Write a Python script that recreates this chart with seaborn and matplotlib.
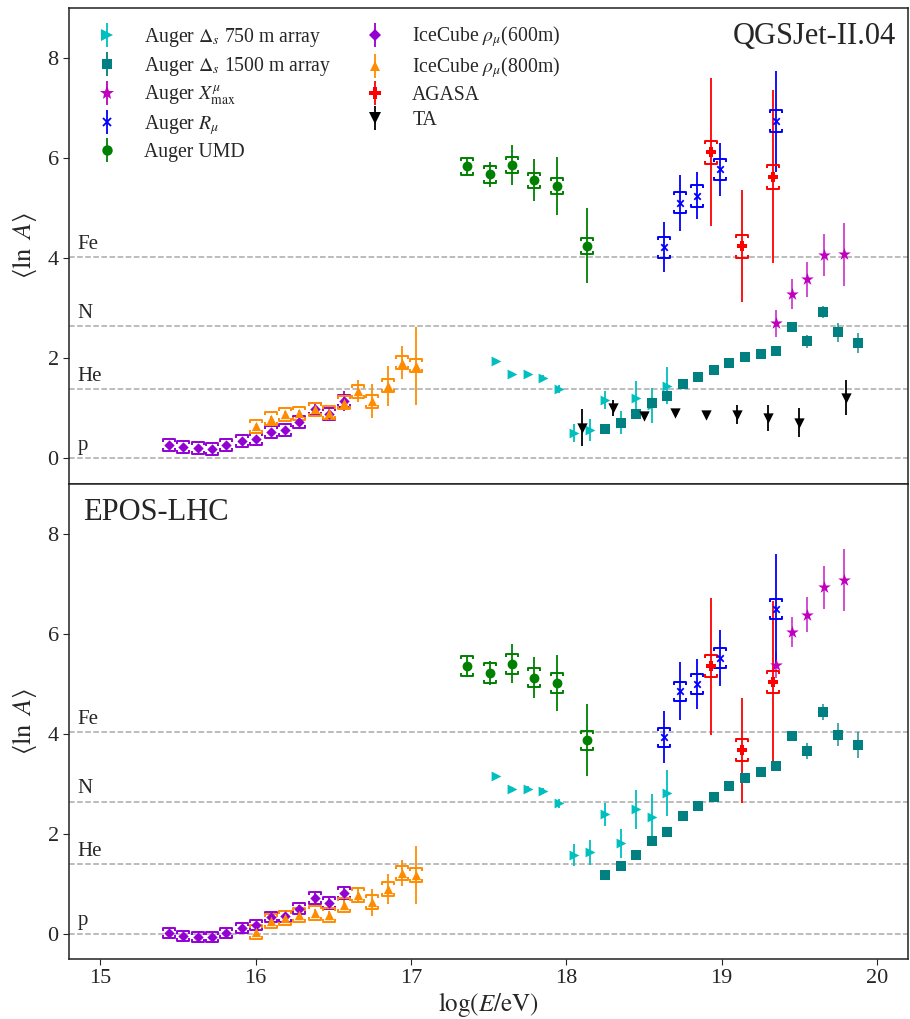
import matplotlib
matplotlib.use('Agg')
import matplotlib.pyplot as plt
from matplotlib.path import Path
from matplotlib.lines import Line2D
import numpy as np
import seaborn as sns

# ---- data ----
x_ic600 = [15.44, 15.53, 15.63, 15.72, 15.81, 15.91, 16.0, 16.1, 16.19, 16.28, 16.38, 16.47, 16.57]
x_ic800 = [16.0, 16.1, 16.19, 16.28, 16.38, 16.47, 16.57, 16.66, 16.75, 16.85, 16.94, 17.03]
x_umd = [17.36, 17.51, 17.65, 17.79, 17.94, 18.13]
x_750 = [17.55, 17.65, 17.75, 17.85, 17.95, 18.05, 18.15, 18.25, 18.35, 18.45, 18.55, 18.65]
x_1500 = [18.25, 18.35, 18.45, 18.55, 18.65, 18.75, 18.85, 18.95, 19.05, 19.15, 19.25, 19.35,
          19.45, 19.55, 19.65, 19.75, 19.88]
x_ta = [18.1, 18.3, 18.5, 18.7, 18.9, 19.1, 19.3, 19.5, 19.8]
x_rmu = [18.63, 18.73, 18.84, 18.99, 19.35]
x_agasa = [18.93, 19.13, 19.33]
x_xmax = [19.35, 19.45, 19.55, 19.66, 19.79]

# QGSJet-II.04
qgs_ic600 = [0.265, 0.225, 0.2, 0.185, 0.26, 0.34, 0.38, 0.52, 0.56, 0.72, 0.98, 0.89, 1.14]
qgs_ic600_err = [0.05, 0.05, 0.05, 0.05, 0.05, 0.06, 0.06, 0.07, 0.07, 0.08, 0.1, 0.1, 0.2]
qgs_ic600_sys = [0.12, 0.12, 0.12, 0.12, 0.12, 0.12, 0.12, 0.12, 0.12, 0.12, 0.12, 0.12, 0.12]
qgs_ic800 = [0.64, 0.79, 0.88, 0.9, 0.98, 0.91, 1.11, 1.34, 1.14, 1.45, 1.91, 1.85]
qgs_ic800_err = [0.05, 0.06, 0.06, 0.07, 0.08, 0.08, 0.1, 0.22, 0.34, 0.4, 0.33, 0.78]
qgs_ic800_sys = [0.13, 0.13, 0.13, 0.13, 0.13, 0.13, 0.13, 0.13, 0.13, 0.13, 0.13, 0.13]
qgs_umd = [5.84, 5.68, 5.86, 5.56, 5.44, 4.25]
qgs_umd_err = [0.18, 0.25, 0.4, 0.42, 0.58, 0.75]
qgs_umd_sys = [0.17, 0.17, 0.16, 0.15, 0.16, 0.16]
qgs_750 = [1.95, 1.69, 1.68, 1.61, 1.39, 0.5, 0.56, 1.16, 0.71, 1.21, 1.06, 1.45]
qgs_750_err = [0.04, 0.04, 0.04, 0.05, 0.08, 0.18, 0.22, 0.18, 0.23, 0.33, 0.35, 0.37]
qgs_1500 = [0.58, 0.71, 0.89, 1.1, 1.24, 1.49, 1.63, 1.77, 1.91, 2.03, 2.09, 2.15,
            2.62, 2.34, 2.93, 2.52, 2.3]
qgs_1500_err = [0.03, 0.04, 0.04, 0.04, 0.04, 0.04, 0.04, 0.04, 0.04, 0.04, 0.05, 0.06,
                0.08, 0.13, 0.12, 0.19, 0.2]
qgs_ta = [0.61, 1.01, 0.84, 0.91, 0.86, 0.87, 0.81, 0.71, 1.21]
qgs_ta_err = [0.37, 0.16, 0.05, 0.04, 0.05, 0.19, 0.26, 0.29, 0.35]
qgs_rmu = [4.22, 5.11, 5.25, 5.78, 6.74]
qgs_rmu_err = [0.5, 0.56, 0.47, 0.53, 1.01]
qgs_rmu_sys = [0.21, 0.21, 0.22, 0.21, 0.22]
qgs_agasa = [6.12, 4.24, 5.63]
qgs_agasa_err = [1.48, 1.12, 1.73]
qgs_agasa_sys = [0.23, 0.23, 0.24]
qgs_xmax = [2.7, 3.28, 3.58, 4.06, 4.08]
qgs_xmax_err = [0.27, 0.3, 0.35, 0.42, 0.63]

# EPOS-LHC
epos_ic600 = [0.013, -0.033, -0.053, -0.053, 0.027, 0.113, 0.18, 0.333, 0.347, 0.5, 0.707, 0.613, 0.813]
epos_ic600_err = [0.05, 0.05, 0.05, 0.05, 0.05, 0.06, 0.06, 0.07, 0.07, 0.08, 0.1, 0.1, 0.15]
epos_ic600_sys = [0.1, 0.1, 0.1, 0.1, 0.1, 0.1, 0.1, 0.1, 0.1, 0.11, 0.12, 0.12, 0.12]
epos_ic800 = [0.047, 0.26, 0.313, 0.38, 0.413, 0.38, 0.58, 0.78, 0.633, 0.893, 1.213, 1.18]
epos_ic800_err = [0.05, 0.06, 0.06, 0.07, 0.08, 0.08, 0.1, 0.16, 0.27, 0.3, 0.26, 0.58]
epos_ic800_sys = [0.14, 0.14, 0.14, 0.14, 0.14, 0.14, 0.14, 0.14, 0.14, 0.14, 0.14, 0.14]
epos_umd = [5.36, 5.21, 5.4, 5.12, 5.01, 3.87]
epos_umd_err = [0.2, 0.24, 0.39, 0.41, 0.56, 0.72]
epos_umd_sys = [0.2, 0.2, 0.2, 0.19, 0.2, 0.19]
epos_750 = [3.15, 2.89, 2.9, 2.85, 2.61, 1.57, 1.63, 2.39, 1.81, 2.49, 2.33, 2.81]
epos_750_err = [0.05, 0.05, 0.05, 0.06, 0.09, 0.22, 0.25, 0.23, 0.29, 0.39, 0.46, 0.46]
epos_1500 = [1.18, 1.36, 1.58, 1.85, 2.03, 2.35, 2.55, 2.73, 2.95, 3.11, 3.23, 3.35,
             3.95, 3.66, 4.43, 3.98, 3.77]
epos_1500_err = [0.03, 0.04, 0.04, 0.04, 0.04, 0.04, 0.04, 0.04, 0.04, 0.05, 0.05, 0.1,
                 0.1, 0.16, 0.16, 0.23, 0.26]
epos_rmu = [3.93, 4.85, 4.99, 5.51, 6.49]
epos_rmu_err = [0.52, 0.58, 0.5, 0.56, 1.1]
epos_rmu_sys = [0.19, 0.19, 0.2, 0.2, 0.2]
epos_agasa = [5.35, 3.67, 5.03]
epos_agasa_err = [1.37, 1.05, 1.62]
epos_agasa_sys = [0.22, 0.22, 0.22]
epos_xmax = [5.38, 6.03, 6.38, 6.93, 7.07]
epos_xmax_err = [0.27, 0.3, 0.35, 0.43, 0.62]

elements = ['p', 'He', 'N', 'Fe']
mass_numbers = [1, 4, 14, 56]

# ---- style ----
sns.set_style('ticks')
plt.rcParams['font.family'] = ['Liberation Serif', 'DejaVu Serif']
plt.rcParams['mathtext.fontset'] = 'stix'

C750, C1500, CXMAX, CRMU, CUMD = 'c', 'teal', 'm', 'blue', 'green'
C600, C800, CAGASA, CTA = 'darkviolet', 'darkorange', 'red', 'black'

# bracket markers for systematic uncertainties
br_top = Path([(-1, -0.6), (-1, 0), (1, 0), (1, -0.6)],
              [Path.MOVETO, Path.LINETO, Path.LINETO, Path.LINETO])
br_bot = Path([(-1, 0.6), (-1, 0), (1, 0), (1, 0.6)],
              [Path.MOVETO, Path.LINETO, Path.LINETO, Path.LINETO])


def series(ax, x, y, err, color, marker, s, sys=None, lw=1.3, alpha=1.0, mlw=0):
    x = np.asarray(x)
    y = np.asarray(y)
    ax.errorbar(x, y, yerr=err, fmt='none', ecolor=color, elinewidth=lw, alpha=alpha, zorder=2)
    if sys is not None:
        sys = np.asarray(sys)
        ax.plot(x, y + sys, ls='none', marker=br_top, ms=8, mew=1.4, color=color,
                fillstyle='none', zorder=3)
        ax.plot(x, y - sys, ls='none', marker=br_bot, ms=8, mew=1.4, color=color,
                fillstyle='none', zorder=3)
    sns.scatterplot(x=x, y=y, marker=marker, color=color, s=s, linewidth=mlw,
                    edgecolor=color, ax=ax, zorder=4, legend=False)


def panel(ax, d):
    for el, a in zip(elements, mass_numbers):
        ax.axhline(np.log(a), color='#aaaaaa', ls='--', lw=1.1, zorder=0)
        ax.text(14.855, np.log(a) + 0.07, el, fontsize=15, va='bottom', ha='left')
    series(ax, x_750, d['750'], d['750_err'], C750, '>', 50)
    series(ax, x_1500, d['1500'], d['1500_err'], C1500, 's', 45, alpha=0.75)
    series(ax, x_xmax, d['xmax'], d['xmax_err'], CXMAX, '*', 90, alpha=0.75)
    series(ax, x_rmu, d['rmu'], d['rmu_err'], CRMU, 'x', 22, sys=d['rmu_sys'], mlw=1.3)
    series(ax, x_umd, d['umd'], d['umd_err'], CUMD, 'o', 50, sys=d['umd_sys'])
    series(ax, x_ic600, d['ic600'], d['ic600_err'], C600, 'D', 28, sys=d['ic600_sys'])
    series(ax, x_ic800, d['ic800'], d['ic800_err'], C800, '^', 45, sys=d['ic800_sys'])
    series(ax, x_agasa, d['agasa'], d['agasa_err'], CAGASA, 'P', 60, sys=d['agasa_sys'])
    if 'ta' in d:
        series(ax, x_ta, d['ta'], d['ta_err'], CTA, 'v', 55)
    ax.set_xlim(14.8, 20.2)
    ax.set_ylim(-0.5, 9)
    ax.set_yticks([0, 2, 4, 6, 8])
    ax.set_ylabel(r'$\langle \ln\ A \rangle$', fontsize=19, labelpad=6)
    ax.tick_params(labelsize=16, direction='out', length=4)
    for sp in ax.spines.values():
        sp.set_linewidth(1.1)
        sp.set_color('#222222')


qgs = dict(ic600=qgs_ic600, ic600_err=qgs_ic600_err, ic600_sys=qgs_ic600_sys,
           ic800=qgs_ic800, ic800_err=qgs_ic800_err, ic800_sys=qgs_ic800_sys,
           umd=qgs_umd, umd_err=qgs_umd_err, umd_sys=qgs_umd_sys,
           **{'750': qgs_750, '750_err': qgs_750_err, '1500': qgs_1500, '1500_err': qgs_1500_err},
           ta=qgs_ta, ta_err=qgs_ta_err,
           rmu=qgs_rmu, rmu_err=qgs_rmu_err, rmu_sys=qgs_rmu_sys,
           agasa=qgs_agasa, agasa_err=qgs_agasa_err, agasa_sys=qgs_agasa_sys,
           xmax=qgs_xmax, xmax_err=qgs_xmax_err)
epos = dict(ic600=epos_ic600, ic600_err=epos_ic600_err, ic600_sys=epos_ic600_sys,
            ic800=epos_ic800, ic800_err=epos_ic800_err, ic800_sys=epos_ic800_sys,
            umd=epos_umd, umd_err=epos_umd_err, umd_sys=epos_umd_sys,
            **{'750': epos_750, '750_err': epos_750_err, '1500': epos_1500, '1500_err': epos_1500_err},
            rmu=epos_rmu, rmu_err=epos_rmu_err, rmu_sys=epos_rmu_sys,
            agasa=epos_agasa, agasa_err=epos_agasa_err, agasa_sys=epos_agasa_sys,
            xmax=epos_xmax, xmax_err=epos_xmax_err)

fig, (ax1, ax2) = plt.subplots(2, 1, figsize=(9.1, 10.19), dpi=100, sharex=True)
fig.subplots_adjust(left=0.076, right=0.998, top=0.992, bottom=0.059, hspace=0)

panel(ax1, qgs)
panel(ax2, epos)
ax2.set_xticks([15, 16, 17, 18, 19, 20])
ax2.set_xlabel(r'$\log(E/\mathrm{eV})$', fontsize=18, labelpad=1)

ax1.text(0.985, 0.97, 'QGSJet-II.04', transform=ax1.transAxes, ha='right', va='top', fontsize=22)
ax2.text(0.016, 0.97, 'EPOS-LHC', transform=ax2.transAxes, ha='left', va='top', fontsize=22)

# legend: vertical error line with the marker on top
legend_items = [
    (C750, '>', r'Auger $\Delta_s$ 750 m array'),
    (C1500, 's', r'Auger $\Delta_s$ 1500 m array'),
    (CXMAX, '*', r'Auger $X^{\mu}_{\mathrm{max}}$'),
    (CRMU, 'x', r'Auger $R_\mu$'),
    (CUMD, 'o', 'Auger UMD'),
    (C600, 'D', r'IceCube $\rho_\mu$(600m)'),
    (C800, '^', r'IceCube $\rho_\mu$(800m)'),
    (CAGASA, 'P', 'AGASA'),
    (CTA, 'v', 'TA'),
]
msizes = {'>': 8, 's': 7, '*': 10, 'x': 6, 'o': 7.5, 'D': 6, '^': 7.5, 'P': 8, 'v': 8}
handles, labels = [], []
for c, m, lab in legend_items:
    vline = Line2D([], [], ls='none', marker='|', ms=17, mew=1.3, color=c)
    mk = Line2D([], [], ls='none', marker=m, ms=msizes[m], color=c,
                mew=1.3 if m == 'x' else 0)
    handles.append((vline, mk))
    labels.append(lab)
ax1.legend(handles, labels, loc='upper left', ncol=2, frameon=False, fontsize=14.2,
           bbox_to_anchor=(0.0, 1.003), handlelength=2.0, handletextpad=0.9,
           columnspacing=1.2, labelspacing=0.3)

fig.savefig('out.png', dpi=100)
